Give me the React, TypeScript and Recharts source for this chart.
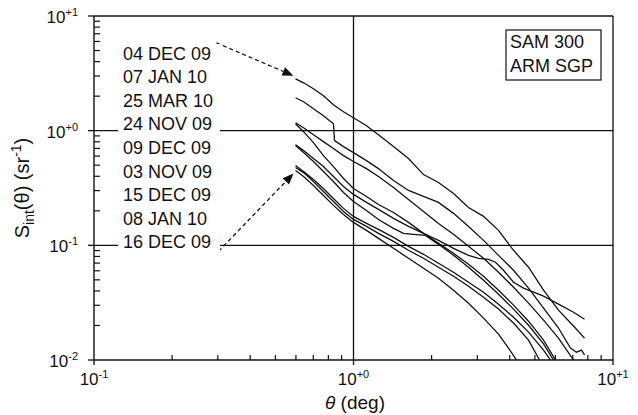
import React from 'react';
import { LineChart, Line, XAxis, YAxis, ReferenceLine } from 'recharts';

const FONT = '"Liberation Sans", Arial, Helvetica, sans-serif';
const INK = '#111';

// ---- data (theta in deg, S_int in sr^-1) ----
const seriesNames = ['04 DEC 09', '07 JAN 10', '25 MAR 10', '24 NOV 09', '09 DEC 09', '03 NOV 09', '15 DEC 09', '08 JAN 10', '16 DEC 09'];

const thetaDec04 = [0.598, 0.642, 0.701, 0.766, 0.837, 0.915, 1.0, 1.122, 1.248, 1.426, 1.629, 1.861, 2.126, 2.429, 2.775, 3.17, 3.621, 4.137, 4.726, 5.398, 6.166, 7.044, 7.767];
const sDec04 = [2.833, 2.615, 2.319, 2.015, 1.683, 1.463, 1.297, 1.105, 0.923, 0.726, 0.571, 0.414, 0.353, 0.283, 0.214, 0.179, 0.135, 0.0905, 0.0644, 0.0406, 0.0272, 0.0198, 0.0155];

const thetaJan07 = [0.598, 0.642, 0.701, 0.766, 0.837, 0.845, 0.915, 1.0, 1.122, 1.248, 1.426, 1.629, 1.861, 2.126, 2.429, 2.775, 3.17, 3.621, 4.137, 4.726, 5.398, 6.166, 6.859, 7.235, 7.563, 7.767];
const sJan07 = [1.936, 1.787, 1.553, 1.35, 1.15, 0.819, 0.726, 0.644, 0.548, 0.467, 0.367, 0.301, 0.267, 0.237, 0.19, 0.146, 0.1105, 0.0818, 0.0606, 0.0423, 0.0283, 0.019, 0.0127, 0.0117, 0.0122, 0.0111];

const thetaMar25 = [0.598, 0.642, 0.701, 0.766, 0.837, 0.915, 1.0, 1.122, 1.248, 1.426, 1.629, 1.861, 2.126, 2.429, 2.775, 3.17, 3.621, 4.137, 4.726, 5.398, 6.166, 7.044];
const sMar25 = [1.174, 1.062, 0.923, 0.802, 0.698, 0.606, 0.538, 0.467, 0.398, 0.319, 0.251, 0.1975, 0.1553, 0.1247, 0.098, 0.0771, 0.0582, 0.0431, 0.0313, 0.0223, 0.0155, 0.01];

const thetaNov24 = [0.598, 0.642, 0.701, 0.766, 0.837, 0.915, 1.0, 1.122, 1.248, 1.426, 1.629, 1.861, 2.126, 2.429, 2.775, 3.17, 3.621, 4.137, 4.726, 5.398, 6.003];
const sNov24 = [1.15, 0.98, 0.786, 0.606, 0.486, 0.3825, 0.313, 0.267, 0.227, 0.1936, 0.1585, 0.1272, 0.104, 0.0852, 0.0684, 0.0537, 0.0406, 0.0301, 0.0218, 0.0149, 0.01];

const thetaDec09 = [0.598, 0.642, 0.701, 0.766, 0.837, 0.915, 1.0, 1.122, 1.248, 1.426, 1.629, 1.861, 2.126, 2.429, 2.775, 3.032, 3.313, 3.525, 3.785, 4.137, 4.52, 5.398, 6.166, 7.044, 7.767];
const sDec09 = [0.755, 0.67, 0.571, 0.486, 0.398, 0.326, 0.278, 0.237, 0.206, 0.1717, 0.1463, 0.1272, 0.1105, 0.0942, 0.0818, 0.0771, 0.0755, 0.0712, 0.0606, 0.0477, 0.0423, 0.036, 0.0307, 0.0261, 0.0227];

const thetaNov03 = [0.598, 0.642, 0.701, 0.766, 0.837, 0.915, 1.0, 1.122, 1.248, 1.426, 1.558, 1.703, 1.895, 2.126, 2.429, 2.775, 3.17, 3.621, 4.137, 4.726, 5.398, 5.897];
const sNov03 = [0.741, 0.644, 0.538, 0.44, 0.36, 0.289, 0.241, 0.2015, 0.168, 0.1405, 0.1272, 0.1247, 0.1222, 0.102, 0.0818, 0.0644, 0.0496, 0.0375, 0.0278, 0.0201, 0.0138, 0.01];

const thetaDec15 = [0.598, 0.642, 0.701, 0.766, 0.837, 0.915, 1.0, 1.122, 1.248, 1.426, 1.629, 1.861, 2.126, 2.429, 2.775, 3.17, 3.621, 4.137, 4.726, 5.398, 5.743];
const sDec15 = [0.496, 0.44, 0.375, 0.313, 0.256, 0.21, 0.1787, 0.1553, 0.1377, 0.1174, 0.098, 0.0835, 0.0697, 0.0582, 0.0477, 0.039, 0.0307, 0.0236, 0.0175, 0.0122, 0.01];

const thetaJan08 = [0.598, 0.642, 0.701, 0.766, 0.837, 0.915, 1.0, 1.122, 1.248, 1.426, 1.629, 1.861, 2.126, 2.429, 2.775, 3.17, 3.621, 4.137, 4.726, 5.21];
const sJan08 = [0.477, 0.431, 0.36, 0.295, 0.241, 0.1975, 0.1683, 0.1463, 0.1272, 0.1083, 0.0905, 0.0771, 0.0644, 0.0537, 0.044, 0.0353, 0.0278, 0.021, 0.0149, 0.01];

const thetaDec16 = [0.598, 0.642, 0.701, 0.766, 0.837, 0.915, 1.0, 1.122, 1.248, 1.426, 1.629, 1.861, 2.126, 2.429, 2.775, 3.17, 3.621, 3.956, 4.248];
const sDec16 = [0.449, 0.398, 0.332, 0.272, 0.223, 0.186, 0.1585, 0.135, 0.115, 0.0942, 0.0771, 0.0631, 0.0516, 0.0406, 0.0313, 0.0232, 0.0168, 0.0127, 0.01];

const thetaSets = [thetaDec04, thetaJan07, thetaMar25, thetaNov24, thetaDec09, thetaNov03, thetaDec15, thetaJan08, thetaDec16];
const sSets = [sDec04, sJan07, sMar25, sNov24, sDec09, sNov03, sDec15, sJan08, sDec16];

const xTicks = [0.1, 0.2, 0.3, 0.4, 0.5, 0.6, 0.7, 0.8, 0.9, 1, 2, 3, 4, 5, 6, 7, 8, 9, 10];
const yTicks = [0.01, 0.02, 0.03, 0.04, 0.05, 0.06, 0.07, 0.08, 0.09, 0.1, 0.2, 0.3, 0.4, 0.5, 0.6, 0.7, 0.8, 0.9, 1, 2, 3, 4, 5, 6, 7, 8, 9, 10];
const gridX = [1];
const gridY = [1, 0.1];

// arrows (data coordinates): [from, to]
const arrowTop = [{ x: 0.2965, y: 5.82 }, { x: 0.587, y: 3.01 }];
const arrowBottom = [{ x: 0.302, y: 0.0887 }, { x: 0.587, y: 0.423 }];

const boxLines = ['SAM 300', 'ARM SGP'];

const curves = seriesNames.map((name, i) => ({
  name,
  data: thetaSets[i].map((t, j) => ({ t, s: sSets[i][j] })),
}));

const isMajor = (v: number) => {
  const e = Math.log10(v);
  return Math.abs(e - Math.round(e)) < 1e-6;
};
const expLabel = (v: number) => {
  const e = Math.round(Math.log10(v));
  return e >= 0 ? '+' + e : String(e);
};

const YTick = (props: any) => {
  const { x, y, payload } = props;
  const v = payload.value;
  if (!isMajor(v)) {
    return <line x1={x} x2={x + 6} y1={y} y2={y} stroke={INK} strokeWidth={1.2} />;
  }
  return (
    <g>
      <line x1={x - 6} x2={x} y1={y} y2={y} stroke={INK} strokeWidth={1.3} />
      <text x={x - 16} y={y + 7} textAnchor="end" fontFamily={FONT} fontSize={17} fill={INK}>
        <tspan>10</tspan>
        <tspan fontSize={11} dy={-7}>{expLabel(v)}</tspan>
      </text>
    </g>
  );
};

const XTick = (props: any) => {
  const { x, y, payload } = props;
  const v = payload.value;
  if (!isMajor(v)) {
    return <line x1={x} x2={x} y1={y} y2={y - 5} stroke={INK} strokeWidth={1.2} />;
  }
  return (
    <g>
      <line x1={x} x2={x} y1={y} y2={y + 5} stroke={INK} strokeWidth={1.3} />
      <text x={x} y={y + 25} textAnchor="middle" fontFamily={FONT} fontSize={17} fill={INK}>
        <tspan>10</tspan>
        <tspan fontSize={11} dy={-7}>{expLabel(v)}</tspan>
      </text>
    </g>
  );
};

const ArrowShape = (props: any) => {
  const { x1, y1, x2, y2 } = props;
  const a = Math.atan2(y2 - y1, x2 - x1);
  const L = 11;
  const W = 4.5;
  const bx = x2 - L * Math.cos(a);
  const by = y2 - L * Math.sin(a);
  const p1 = `${bx - W * Math.sin(a)},${by + W * Math.cos(a)}`;
  const p2 = `${bx + W * Math.sin(a)},${by - W * Math.cos(a)}`;
  return (
    <g>
      <line x1={x1} y1={y1} x2={bx} y2={by} stroke={INK} strokeWidth={1.3} strokeDasharray="4 3" />
      <polygon points={`${x2},${y2} ${p1} ${p2}`} fill={INK} />
    </g>
  );
};

export default function App() {
  const labelTop = 59.5;
  const labelStep = 23.6;
  return (
    <div style={{ position: 'absolute', left: 0, top: 0, width: 638, height: 415, background: '#fff' }}>
      <LineChart width={638} height={415} margin={{ top: 16, right: 25, bottom: 0, left: 0 }}>
        <XAxis
          dataKey="t"
          type="number"
          scale="log"
          domain={[0.1, 10]}
          allowDataOverflow
          ticks={xTicks}
          interval={0}
          tick={<XTick />}
          tickLine={false}
          tickSize={0}
          tickMargin={0}
          height={55}
          axisLine={{ stroke: INK, strokeWidth: 1.4 }}
        />
        <YAxis
          dataKey="s"
          type="number"
          scale="log"
          domain={[0.01, 10]}
          allowDataOverflow
          ticks={yTicks}
          interval={0}
          tick={<YTick />}
          tickLine={false}
          tickSize={0}
          tickMargin={0}
          width={94}
          axisLine={{ stroke: INK, strokeWidth: 1.4 }}
        />
        <ReferenceLine y={10} stroke={INK} strokeWidth={1.3} />
        <ReferenceLine x={10} stroke={INK} strokeWidth={1.3} />
        {gridY.map((g) => (
          <ReferenceLine key={'gy' + g} y={g} stroke={INK} strokeWidth={1.3} />
        ))}
        {gridX.map((g) => (
          <ReferenceLine key={'gx' + g} x={g} stroke={INK} strokeWidth={1.3} />
        ))}
        {curves.map((c) => (
          <Line
            key={c.name}
            name={c.name}
            data={c.data}
            dataKey="s"
            type="linear"
            stroke={INK}
            strokeWidth={1.3}
            dot={false}
            activeDot={false}
            isAnimationActive={false}
          />
        ))}
        <ReferenceLine segment={arrowTop} shape={<ArrowShape />} />
        <ReferenceLine segment={arrowBottom} shape={<ArrowShape />} />
      </LineChart>
      <svg width={638} height={415} style={{ position: 'absolute', left: 0, top: 0, pointerEvents: 'none' }}>
        <rect x={118} y={44} width={102} height={210} fill="#fff" />
        {seriesNames.map((n, i) => (
          <text key={n} x={123} y={labelTop + i * labelStep} fontFamily={FONT} fontSize={18} fill={INK}>
            {n}
          </text>
        ))}
        <rect x={506} y={30} width={95} height={50} fill="#fff" stroke={INK} strokeWidth={1.2} />
        {boxLines.map((t, i) => (
          <text key={t} x={510} y={48 + i * 24} fontFamily={FONT} fontSize={18} fill={INK}>
            {t}
          </text>
        ))}
        <text x={355} y={409} textAnchor="middle" fontFamily={FONT} fontSize={19} fill={INK}>
          <tspan fontStyle="italic">θ</tspan>
          <tspan> (deg)</tspan>
        </text>
        <text transform="translate(29,188) rotate(-90)" textAnchor="middle" fontFamily={FONT} fontSize={20} fill={INK}>
          <tspan>S</tspan>
          <tspan fontSize={14} dy={5}>int</tspan>
          <tspan dy={-5}>(θ) (sr</tspan>
          <tspan fontSize={14} dy={-8}>-1</tspan>
          <tspan dy={8}>)</tspan>
        </text>
      </svg>
    </div>
  );
}
